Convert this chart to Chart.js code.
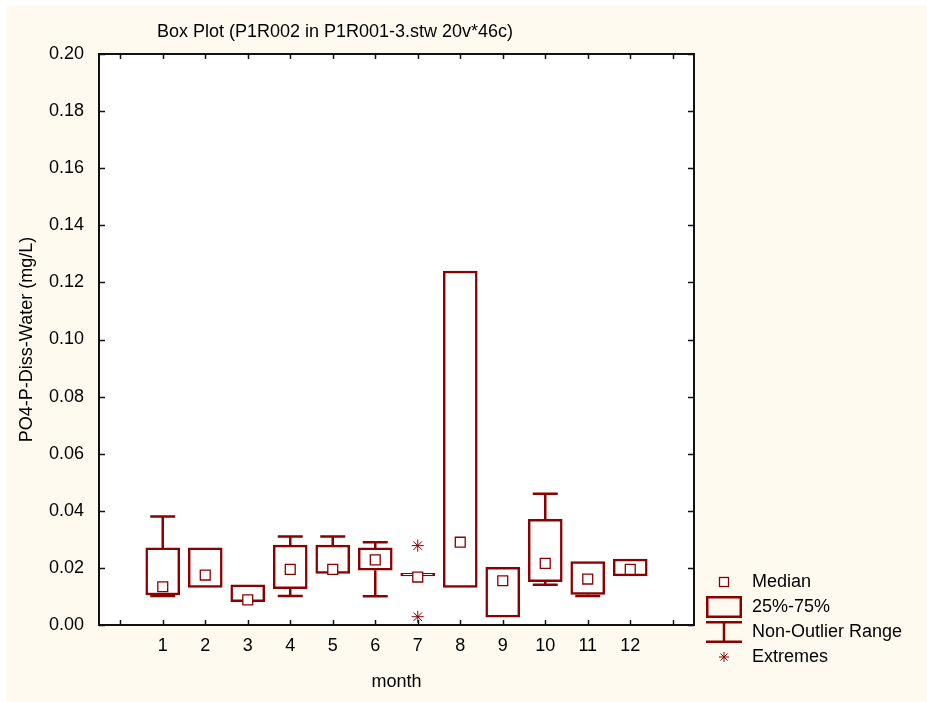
<!DOCTYPE html>
<html>
<head>
<meta charset="utf-8">
<title>Box Plot</title>
<script src="https://cdn.jsdelivr.net/npm/chart.js@4.4.1/dist/chart.umd.min.js"></script>
<style>
  html, body { margin: 0; padding: 0; background: #ffffff; }
  #myChart { display: block; }
</style>
</head>
<body>
<canvas id="myChart" width="927" height="702"></canvas>
<script>
// values
var months = [1, 2, 3, 4, 5, 6, 7, 8, 9, 10, 11, 12];
var xTicks = [0, 1, 2, 3, 4, 5, 6, 7, 8, 9, 10, 11, 12, 13];
var q1 = [0.0105, 0.0132, 0.0082, 0.0127, 0.0181, 0.0192, 0.0172, 0.0132, 0.0027, 0.0152, 0.0107, 0.0172];
var q3 = [0.0270, 0.0270, 0.0141, 0.0280, 0.0280, 0.0270, 0.0181, 0.1240, 0.0202, 0.0370, 0.0222, 0.0231];
var medians = [0.0134, 0.0175, 0.0088, 0.0195, 0.0195, 0.0228, 0.0168, 0.0290, 0.0155, 0.0216, 0.0161, 0.0195];
var whiskerMin = [0.0102, 0.0132, 0.0082, 0.0102, 0.0181, 0.0101, 0.0172, 0.0132, 0.0027, 0.0141, 0.0102, 0.0172];
var whiskerMax = [0.0380, 0.0270, 0.0141, 0.0310, 0.0310, 0.0290, 0.0181, 0.1240, 0.0202, 0.0460, 0.0222, 0.0231];
var extremeMonths = [7, 7];
var extremeValues = [0.0278, 0.0029];
var legendLabels = ["Median", "25%-75%", "Non-Outlier Range", "Extremes"];

var red = "#8b0000";
var fontFamily = "'Liberation Sans', Arial, Helvetica, sans-serif";

Chart.defaults.font.family = fontFamily;
Chart.defaults.font.size = 18;
Chart.defaults.color = "#000";

function icon(w, h, draw) {
    var c = document.createElement("canvas");
    c.width = w;
    c.height = h;
    var ctx = c.getContext("2d");
    ctx.strokeStyle = red;
    ctx.fillStyle = "#fff";
    draw(ctx);
    return c;
}

var legendIcons = [
    icon(12, 12, function (ctx) {
        ctx.lineWidth = 1.3;
        ctx.fillRect(1.5, 1.5, 9, 9);
        ctx.strokeRect(1.5, 1.5, 9, 9);
    }),
    icon(36, 22, function (ctx) {
        ctx.lineWidth = 2.5;
        ctx.strokeRect(1.25, 1.25, 33.5, 19.5);
    }),
    icon(36, 22, function (ctx) {
        ctx.lineWidth = 2.5;
        ctx.beginPath();
        ctx.moveTo(0, 1.25); ctx.lineTo(36, 1.25);
        ctx.moveTo(0, 20.75); ctx.lineTo(36, 20.75);
        ctx.moveTo(18, 1); ctx.lineTo(18, 21);
        ctx.stroke();
    }),
    icon(12, 12, function (ctx) {
        ctx.lineWidth = 1;
        ctx.beginPath();
        ctx.moveTo(6, 1); ctx.lineTo(6, 11);
        ctx.moveTo(1, 6); ctx.lineTo(11, 6);
        ctx.moveTo(2.5, 2.5); ctx.lineTo(9.5, 9.5);
        ctx.moveTo(9.5, 2.5); ctx.lineTo(2.5, 9.5);
        ctx.stroke();
    })
];

var boxes = [];
var medianPoints = [];
for (var i = 0; i < months.length; i++) {
    boxes.push({x: months[i], y: [q1[i], q3[i]]});
    medianPoints.push({x: months[i], y: medians[i]});
}
var extremePoints = [];
for (var j = 0; j < extremeMonths.length; j++) {
    extremePoints.push({x: extremeMonths[j], y: extremeValues[j]});
}

// page background, white plot area, title
var backdrop = {
    id: "backdrop",
    beforeDraw: function (chart) {
        var ctx = chart.ctx, a = chart.chartArea;
        ctx.save();
        ctx.fillStyle = "#fefaef";
        ctx.fillRect(6, 5, chart.width - 6, chart.height - 5);
        ctx.fillStyle = "#ffffff";
        ctx.fillRect(a.left, a.top, a.right - a.left, a.bottom - a.top);
        ctx.fillStyle = "#000";
        ctx.font = "18px " + fontFamily;
        ctx.textAlign = "center";
        ctx.textBaseline = "middle";
        ctx.fillText("Box Plot (P1R002 in P1R001-3.stw 20v*46c)", 335, 32);
        ctx.restore();
    },
    afterLayout: function (chart) {
        // legend sits below-right, next to the x axis
        var lg = chart.legend;
        lg.left = 698;
        lg.right = 927;
        lg.bottom = 673;
    }
};

// whiskers and caps, only where they stick out of the box
var whiskers = {
    id: "whiskers",
    beforeDatasetsDraw: function (chart) {
        var ctx = chart.ctx, xs = chart.scales.x, ys = chart.scales.y;
        ctx.save();
        ctx.strokeStyle = red;
        ctx.lineWidth = 2.5;
        ctx.beginPath();
        for (var i = 0; i < months.length; i++) {
            var px = xs.getPixelForValue(months[i]);
            if (whiskerMax[i] > q3[i]) {
                var top = ys.getPixelForValue(whiskerMax[i]);
                ctx.moveTo(px, ys.getPixelForValue(q3[i])); ctx.lineTo(px, top);
                ctx.moveTo(px - 12.5, top); ctx.lineTo(px + 12.5, top);
            }
            if (whiskerMin[i] < q1[i]) {
                var bot = ys.getPixelForValue(whiskerMin[i]);
                ctx.moveTo(px, ys.getPixelForValue(q1[i])); ctx.lineTo(px, bot);
                ctx.moveTo(px - 12.5, bot); ctx.lineTo(px + 12.5, bot);
            }
        }
        ctx.stroke();
        ctx.restore();
    }
};

// plot frame with inward ticks on all four sides
var frame = {
    id: "frame",
    afterDraw: function (chart) {
        var ctx = chart.ctx, a = chart.chartArea, xs = chart.scales.x, ys = chart.scales.y;
        ctx.save();
        ctx.strokeStyle = "#111";
        ctx.lineWidth = 2;
        ctx.strokeRect(a.left, a.top, a.right - a.left, a.bottom - a.top);
        ctx.lineWidth = 1.5;
        ctx.beginPath();
        xs.ticks.forEach(function (t) {
            var px = Math.round(xs.getPixelForValue(t.value)) + 0.5;
            ctx.moveTo(px, a.bottom); ctx.lineTo(px, a.bottom - 5);
            ctx.moveTo(px, a.top); ctx.lineTo(px, a.top + 5);
        });
        ys.ticks.forEach(function (t) {
            var py = Math.round(ys.getPixelForValue(t.value)) + 0.5;
            ctx.moveTo(a.left, py); ctx.lineTo(a.left + 6, py);
            ctx.moveTo(a.right, py); ctx.lineTo(a.right - 6, py);
        });
        ctx.stroke();
        ctx.restore();
    }
};

new Chart(document.getElementById("myChart"), {
    type: "bar",
    data: {
        datasets: [
            {
                type: "scatter",
                label: "Median",
                data: medianPoints,
                pointStyle: "rect",
                radius: 7,
                borderWidth: 1.3,
                borderColor: red,
                backgroundColor: "#ffffff",
                order: 0
            },
            {
                type: "scatter",
                label: "Extremes",
                data: extremePoints,
                pointStyle: "star",
                radius: 6,
                borderWidth: 1,
                borderColor: red,
                backgroundColor: red,
                order: 1
            },
            {
                type: "bar",
                label: "25%-75%",
                data: boxes,
                backgroundColor: "#ffffff",
                borderColor: red,
                borderWidth: 2.5,
                borderSkipped: false,
                barThickness: 34,
                order: 2
            }
        ]
    },
    options: {
        responsive: false,
        devicePixelRatio: 1,
        animation: false,
        layout: {
            padding: {left: 10, top: 54, right: 232, bottom: 0}
        },
        scales: {
            x: {
                type: "linear",
                min: -0.5,
                max: 13.5,
                offset: false,
                grid: {display: false, drawTicks: false},
                border: {display: false},
                afterBuildTicks: function (scale) {
                    scale.ticks = xTicks.map(function (v) { return {value: v}; });
                },
                ticks: {
                    padding: 10,
                    maxRotation: 0,
                    autoSkip: false,
                    callback: function (v) {
                        return months.indexOf(v) >= 0 ? String(v) : "";
                    }
                },
                title: {display: true, text: "month", padding: {top: 4, bottom: 9}},
                afterFit: function (scale) { scale.height = 77; }
            },
            y: {
                type: "linear",
                min: 0,
                max: 0.2,
                grid: {display: false, drawTicks: false},
                border: {display: false},
                ticks: {
                    stepSize: 0.02,
                    padding: 15,
                    callback: function (v) { return Number(v).toFixed(2); }
                },
                title: {display: true, text: "PO4-P-Diss-Water (mg/L)", padding: {top: 6, bottom: 4}},
                afterFit: function (scale) { scale.width = 89; }
            }
        },
        plugins: {
            title: {display: false},
            tooltip: {enabled: false},
            legend: {
                display: true,
                position: "right",
                align: "end",
                maxWidth: 1,
                labels: {
                    usePointStyle: true,
                    pointStyleWidth: 38,
                    padding: 7,
                    color: "#000",
                    font: {size: 18},
                    generateLabels: function () {
                        return legendLabels.map(function (t, i) {
                            return {
                                text: t,
                                pointStyle: legendIcons[i],
                                fillStyle: "#fff",
                                strokeStyle: red,
                                lineWidth: 0,
                                hidden: false,
                                datasetIndex: i
                            };
                        });
                    }
                }
            }
        }
    },
    plugins: [backdrop, whiskers, frame]
});
</script>
</body>
</html>
